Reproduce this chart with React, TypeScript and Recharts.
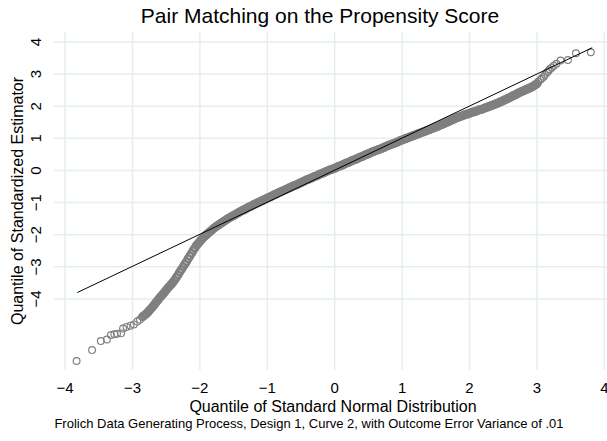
import React from "react";
import { ScatterChart, Scatter, XAxis, YAxis, CartesianGrid } from "recharts";

const xTicks = [-4, -3, -2, -1, 0, 1, 2, 3, 4];
const yTicks = [-4, -3, -2, -1, 0, 1, 2, 3, 4];

const lowerTailX = [-3.83, -3.6, -3.47, -3.38, -3.32, -3.27, -3.23, -3.17, -3.14, -3.09, -3.03, -2.98, -2.93, -2.89];
const lowerTailY = [-5.93, -5.59, -5.31, -5.26, -5.12, -5.1, -5.08, -5.07, -4.92, -4.87, -4.83, -4.79, -4.7, -4.64];

const steepX = [
  -2.85, -2.825, -2.8, -2.775, -2.75, -2.725, -2.7, -2.675, -2.65, -2.625,
  -2.6, -2.575, -2.55, -2.525, -2.5, -2.475, -2.45, -2.425, -2.4, -2.375,
  -2.35, -2.325, -2.3, -2.275, -2.25, -2.225, -2.2, -2.175, -2.15, -2.125,
  -2.1, -2.075, -2.05, -2.025, -2, -1.975, -1.95, -1.925, -1.9, -1.875,
  -1.85, -1.825, -1.8, -1.775, -1.75, -1.725, -1.7, -1.675, -1.65, -1.625,
  -1.6, -1.575, -1.55, -1.525, -1.5,
];
const steepY = [
  -4.55, -4.51, -4.47, -4.42, -4.36, -4.3, -4.24, -4.17, -4.1, -4.04,
  -3.97, -3.91, -3.85, -3.79, -3.72, -3.66, -3.6, -3.54, -3.48, -3.41,
  -3.33, -3.25, -3.16, -3.08, -3, -2.92, -2.84, -2.75, -2.66, -2.58,
  -2.49, -2.41, -2.33, -2.27, -2.2, -2.15, -2.09, -2.04, -1.99, -1.95,
  -1.9, -1.86, -1.81, -1.77, -1.73, -1.7, -1.66, -1.63, -1.59, -1.56,
  -1.52, -1.49, -1.46, -1.43, -1.4,
];

const midX = [
  -1.475, -1.45, -1.425, -1.4, -1.375, -1.35, -1.325, -1.3, -1.275, -1.25, -1.225, -1.2, -1.175, -1.15, -1.125, -1.1, -1.075, -1.05, -1.025, -1,
  -0.975, -0.95, -0.925, -0.9, -0.875, -0.85, -0.825, -0.8, -0.775, -0.75, -0.725, -0.7, -0.675, -0.65, -0.625, -0.6, -0.575, -0.55, -0.525, -0.5,
  -0.475, -0.45, -0.425, -0.4, -0.375, -0.35, -0.325, -0.3, -0.275, -0.25, -0.225, -0.2, -0.175, -0.15, -0.125, -0.1, -0.075, -0.05, -0.025, 0,
  0.025, 0.05, 0.075, 0.1, 0.125, 0.15, 0.175, 0.2, 0.225, 0.25, 0.275, 0.3, 0.325, 0.35, 0.375, 0.4, 0.425, 0.45, 0.475, 0.5,
  0.525, 0.55, 0.575, 0.6, 0.625, 0.65, 0.675, 0.7, 0.725, 0.75, 0.775, 0.8, 0.825, 0.85, 0.875, 0.9, 0.925, 0.95, 0.975, 1,
  1.025, 1.05, 1.075, 1.1, 1.125, 1.15, 1.175, 1.2, 1.225, 1.25, 1.275, 1.3, 1.325, 1.35, 1.375, 1.4, 1.425, 1.45, 1.475, 1.5,
  1.525, 1.55, 1.575, 1.6, 1.625, 1.65, 1.675, 1.7, 1.725, 1.75, 1.775, 1.8, 1.825, 1.85, 1.875, 1.9, 1.925, 1.95, 1.975, 2,
  2.025, 2.05, 2.075, 2.1, 2.125, 2.15, 2.175, 2.2, 2.225, 2.25, 2.275, 2.3, 2.325, 2.35, 2.375, 2.4, 2.425, 2.45, 2.475, 2.5,
  2.525, 2.55, 2.575, 2.6, 2.625, 2.65, 2.675, 2.7, 2.725, 2.75, 2.775, 2.8, 2.825, 2.85, 2.875, 2.9, 2.925, 2.95, 2.975, 3,
];
const midY = [
  -1.37, -1.34, -1.31, -1.28, -1.25, -1.23, -1.2, -1.17, -1.14, -1.12, -1.09, -1.06, -1.04, -1.01, -0.99, -0.96, -0.94, -0.91, -0.89, -0.86,
  -0.84, -0.81, -0.79, -0.76, -0.74, -0.71, -0.69, -0.66, -0.64, -0.62, -0.59, -0.57, -0.54, -0.52, -0.49, -0.47, -0.45, -0.43, -0.4, -0.38,
  -0.35, -0.33, -0.3, -0.28, -0.26, -0.24, -0.21, -0.19, -0.17, -0.15, -0.12, -0.1, -0.08, -0.06, -0.03, -0.01, 0.01, 0.03, 0.05, 0.07,
  0.09, 0.12, 0.14, 0.16, 0.18, 0.21, 0.23, 0.25, 0.27, 0.3, 0.32, 0.34, 0.36, 0.39, 0.41, 0.43, 0.45, 0.48, 0.5, 0.52,
  0.54, 0.57, 0.59, 0.61, 0.63, 0.65, 0.67, 0.69, 0.71, 0.74, 0.76, 0.78, 0.8, 0.82, 0.84, 0.86, 0.88, 0.91, 0.93, 0.95,
  0.97, 0.99, 1.01, 1.03, 1.05, 1.07, 1.09, 1.11, 1.13, 1.15, 1.17, 1.19, 1.21, 1.23, 1.25, 1.27, 1.29, 1.31, 1.33, 1.35,
  1.37, 1.4, 1.42, 1.44, 1.46, 1.49, 1.51, 1.53, 1.56, 1.58, 1.61, 1.63, 1.65, 1.67, 1.69, 1.71, 1.73, 1.75, 1.76, 1.78,
  1.8, 1.82, 1.83, 1.85, 1.87, 1.89, 1.9, 1.92, 1.94, 1.96, 1.98, 2, 2.02, 2.04, 2.06, 2.08, 2.1, 2.13, 2.15, 2.17,
  2.2, 2.22, 2.25, 2.27, 2.3, 2.33, 2.35, 2.38, 2.41, 2.43, 2.46, 2.48, 2.5, 2.53, 2.55, 2.57, 2.6, 2.63, 2.67, 2.7,
];

const upperTailX = [3.02, 3.05, 3.07, 3.1, 3.12, 3.15, 3.17, 3.19, 3.22, 3.25, 3.29, 3.35, 3.46, 3.58, 3.8];
const upperTailY = [2.76, 2.82, 2.86, 2.92, 2.98, 3.05, 3.1, 3.15, 3.2, 3.26, 3.32, 3.42, 3.44, 3.65, 3.68];

const refLineX = [-3.82, 3.82];
const refLineY = [-3.8, 3.82];

const pair = (xs: number[], ys: number[]) => xs.map((x, i) => ({ x, y: ys[i] }));

const tailData = [...pair(lowerTailX, lowerTailY), ...pair(upperTailX, upperTailY)];
const bandData = [...pair(steepX, steepY), ...pair(midX, midY)];
const lineData = pair(refLineX, refLineY);

const FONT = '"Liberation Sans", Arial, Helvetica, sans-serif';
const MARK = "#7f7f7f";
const fmt = (v: number) => (v < 0 ? "\u2212" + Math.abs(v) : String(v));

const TailRing = (props: any) => {
  const { cx, cy } = props;
  if (cx == null || cy == null) return <g />;
  return <circle cx={cx} cy={cy} r={3.4} fill="none" stroke={MARK} strokeWidth={1.15} />;
};

const BandRing = (props: any) => {
  const { cx, cy } = props;
  if (cx == null || cy == null) return <g />;
  return <circle cx={cx} cy={cy} r={3.4} fill="none" stroke={MARK} strokeWidth={2.3} />;
};

const renderXTick = (props: any) => {
  const { x, payload } = props;
  return (
    <text x={x} y={393} textAnchor="middle" fontFamily={FONT} fontSize={15} fill="#000">
      {fmt(payload.value)}
    </text>
  );
};

const renderYTick = (props: any) => {
  const { y, payload } = props;
  return (
    <text
      x={41.5}
      y={y}
      transform={`rotate(-90 41.5 ${y})`}
      textAnchor="middle"
      fontFamily={FONT}
      fontSize={15}
      fill="#000"
    >
      {fmt(payload.value)}
    </text>
  );
};

export default function App() {
  return (
    <div style={{ position: "absolute", left: 0, top: 0, width: 607, height: 441, background: "#fff", overflow: "hidden" }}>
      <ScatterChart width={607} height={441} margin={{ top: 32, right: 0, bottom: 0, left: 0 }}>
        <CartesianGrid stroke="#e6eeee" strokeWidth={1.5} horizontalValues={yTicks} verticalValues={xTicks} />
        <XAxis
          type="number"
          dataKey="x"
          domain={[-4.165, 4.04]}
          ticks={xTicks}
          interval={0}
          height={71}
          axisLine={false}
          tickLine={false}
          tick={renderXTick}
          allowDataOverflow
        />
        <YAxis
          type="number"
          dataKey="y"
          domain={[-6.21, 4.31]}
          ticks={yTicks}
          interval={0}
          width={54}
          axisLine={false}
          tickLine={false}
          tick={renderYTick}
          allowDataOverflow
        />
        <Scatter data={tailData} shape={TailRing} isAnimationActive={false} />
        <Scatter data={bandData} shape={BandRing} isAnimationActive={false} />
        <Scatter
          data={lineData}
          line={{ stroke: "#000", strokeWidth: 1 }}
          shape={() => <g />}
          isAnimationActive={false}
        />
      </ScatterChart>
      <svg width={607} height={441} style={{ position: "absolute", left: 0, top: 0, pointerEvents: "none" }}>
        <text x={320} y={23} textAnchor="middle" fontFamily={FONT} fontSize={21} fill="#000">
          Pair Matching on the Propensity Score
        </text>
        <text x={333} y={411.5} textAnchor="middle" fontFamily={FONT} fontSize={16} fill="#000">
          Quantile of Standard Normal Distribution
        </text>
        <text x={309} y={428} textAnchor="middle" fontFamily={FONT} fontSize={13} fill="#000">
          Frolich Data Generating Process, Design 1, Curve 2, with Outcome Error Variance of .01
        </text>
        <text
          x={23}
          y={201}
          transform="rotate(-90 23 201)"
          textAnchor="middle"
          fontFamily={FONT}
          fontSize={16}
          fill="#000"
        >
          Quantile of Standardized Estimator
        </text>
      </svg>
    </div>
  );
}
